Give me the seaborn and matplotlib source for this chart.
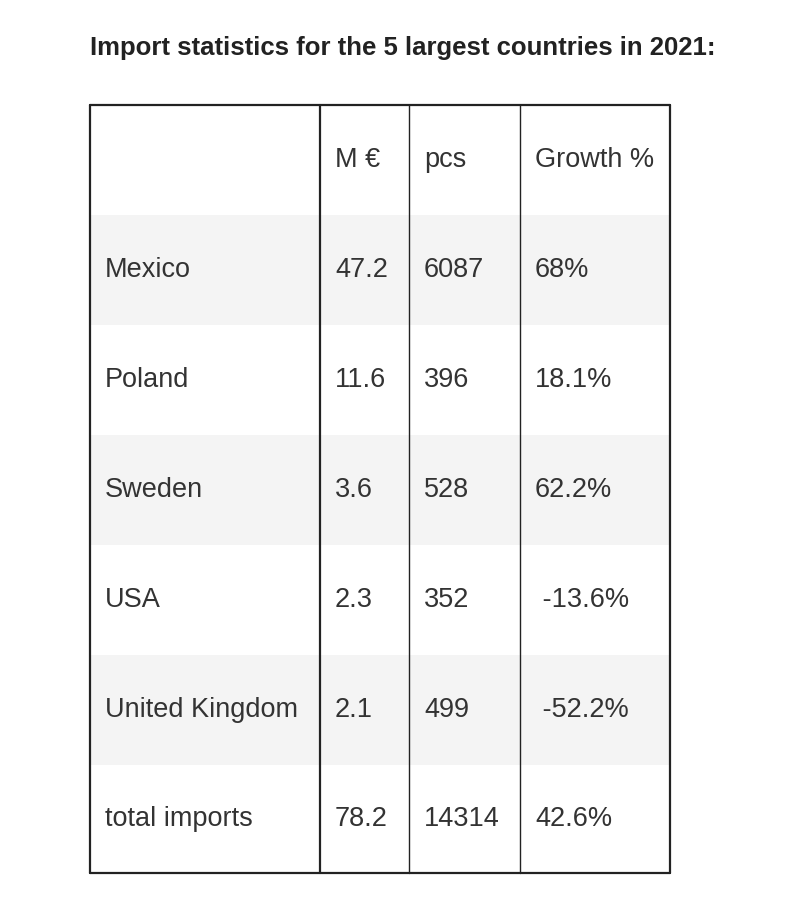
import matplotlib
matplotlib.use("Agg")
import matplotlib.pyplot as plt
import seaborn as sns

title = "Import statistics for the 5 largest countries in 2021:"
headers = ["", "M €", "pcs", "Growth %"]
countries = ["Mexico", "Poland", "Sweden", "USA", "United Kingdom", "total imports"]
meur = ["47.2", "11.6", "3.6", "2.3", "2.1", "78.2"]
pcs = ["6087", "396", "528", "352", "499", "14314"]
growth = ["68%", "18.1%", "62.2%", " -13.6%", " -52.2%", "42.6%"]

sns.set_theme(style="white")
fig = plt.figure(figsize=(8, 8.98), dpi=100)
ax = fig.add_axes([0, 0, 1, 1])
ax.set_xlim(0, 800)
ax.set_ylim(898, 0)
ax.axis("off")

col_edges = [90, 320, 409, 520, 670]
top, row_h = 105, 110
bottom = 873

ax.text(90, 48, title, fontsize=18.5, fontweight="bold", color="#222222",
        va="center", ha="left", family="Liberation Sans")

rows = [headers] + [[c, m, p, g] for c, m, p, g in zip(countries, meur, pcs, growth)]
for i, row in enumerate(rows):
    y0 = top + i * row_h
    y1 = min(y0 + row_h, bottom)
    if i in (1, 3, 5):
        ax.fill_between([col_edges[0], col_edges[-1]], y0, y1, color="#f4f4f4", lw=0)
    yc = (y0 + y1) / 2
    for j, txt in enumerate(row):
        ax.text(col_edges[j] + 15, yc, txt, fontsize=19.5, color="#333333",
                va="center", ha="left", family="Liberation Sans")

for k, x in enumerate(col_edges):
    lw = 1.6 if k in (0, 1, 4) else 1.0
    ax.plot([x, x], [top, bottom], color="#222222", lw=lw)
ax.plot([col_edges[0], col_edges[-1]], [top, top], color="#222222", lw=1.6)
ax.plot([col_edges[0], col_edges[-1]], [bottom, bottom], color="#222222", lw=1.6)

fig.savefig("out.png", dpi=100, facecolor="white")
